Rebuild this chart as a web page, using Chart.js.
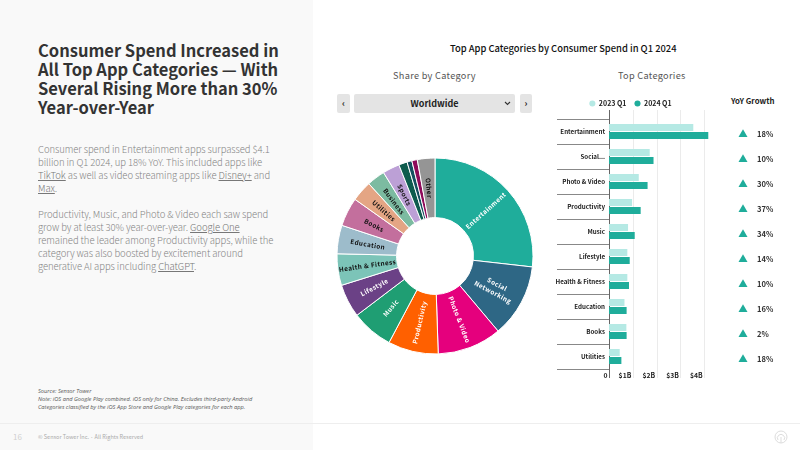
<!DOCTYPE html>
<html>
<head>
<meta charset="utf-8">
<script src="https://cdn.jsdelivr.net/npm/chart.js@4"></script>
<style>
    html, body { margin: 0; padding: 0; background: #fff; }
    #page { position: relative; width: 800px; height: 450px; overflow: hidden; font-family: "Noto Sans CJK JP", "Noto Sans", sans-serif; }
    #page div, #page canvas { position: absolute; }
    #side { left: 0; top: 0; width: 313px; height: 450px; background: #f9f9f9; }
    #headline { left: 38px; top: 41px; font-size: 16.5px; line-height: 18.9px; font-weight: 700; color: #333; white-space: nowrap; }
    #body { left: 38px; top: 143px; font-size: 9.5px; line-height: 13px; font-weight: 300; letter-spacing: -0.07px; color: #858585; white-space: nowrap; }
    #body u { color: #777; }
    #notes { left: 38px; top: 387px; font-family: "Open Sans", sans-serif; font-style: italic; font-size: 5.7px; line-height: 8px; color: #555; white-space: nowrap; }
    #rule { left: 0; top: 423px; width: 800px; height: 1px; background: #eeeeee; }
    #pageno { left: 13px; top: 432px; font-size: 8px; line-height: 10px; color: #d0d0d0; }
    #copy { left: 38px; top: 433px; font-size: 5.5px; line-height: 8px; color: #aaa; white-space: nowrap; }
    #main-title { left: 450px; top: 41px; font-size: 9.4px; line-height: 14px; font-weight: 500; color: #111; white-space: nowrap; }
    .sub { top: 68px; font-size: 9.2px; line-height: 14px; color: #555; letter-spacing: 0.3px; white-space: nowrap; }
    .btn { top: 94px; height: 19px; background: #e4e4e4; border-radius: 2px; text-align: center; font-size: 9px; line-height: 19px; font-weight: 700; color: #222; }
    #yoy-head { left: 731px; top: 95px; font-size: 7.8px; line-height: 12px; font-weight: 700; color: #222; white-space: nowrap; }
    #logo { left: 774px; top: 430px; width: 14px; height: 14px; }
</style>
</head>
<body>
<div id="page">
    <div id="side"></div>
    <div id="headline">Consumer Spend Increased in<br>All Top App Categories — With<br>Several Rising More than 30%<br>Year-over-Year</div>
    <div id="body">Consumer spend in Entertainment apps surpassed $4.1<br>billion in Q1 2024, up 18% YoY. This included apps like<br><u>TikTok</u> as well as video streaming apps like <u>Disney+</u> and<br><u>Max</u>.<br><br>Productivity, Music, and Photo &amp; Video each saw spend<br>grow by at least 30% year-over-year. <u>Google One</u><br>remained the leader among Productivity apps, while the<br>category was also boosted by excitement around<br>generative AI apps including <u>ChatGPT</u>.</div>
    <div id="notes">Source: Sensor Tower<br>Note: iOS and Google Play combined. iOS only for China. Excludes third-party Android<br>Categories classified by the iOS App Store and Google Play categories for each app.</div>
    <div id="rule"></div>
    <div id="pageno">16</div>
    <div id="copy">© Sensor Tower Inc. · All Rights Reserved</div>

    <div id="main-title">Top App Categories by Consumer Spend in Q1 2024</div>
    <div class="sub" style="left:393px">Share by Category</div>
    <div class="sub" style="left:618px">Top Categories</div>
    <div class="btn" style="left:337px;width:13px">‹</div>
    <div class="btn" style="left:354px;width:161px">Worldwide<svg style="position:absolute;left:150px;top:7px" width="7" height="5"><path d="M1 1 L3.5 3.5 L6 1" fill="none" stroke="#333" stroke-width="1.1"/></svg></div>
    <div class="btn" style="left:520px;width:12px">›</div>
    <div id="yoy-head">YoY Growth</div>
    <svg id="logo" style="position:absolute" viewBox="0 0 14 14"><circle cx="7" cy="7" r="6" fill="none" stroke="#ddd" stroke-width="1"/><path d="M4 10 A3.6 3.6 0 1 1 10 10 M7 7 V13" fill="none" stroke="#ddd" stroke-width="1"/></svg>

    <canvas id="shareChart" style="left:335px;top:156px;width:200px;height:200px"></canvas>
    <canvas id="barChart" style="left:552px;top:92px;width:190px;height:293px"></canvas>
    <canvas id="yoyChart" style="left:730px;top:122px;width:65px;height:250px"></canvas>
</div>

<script>
const shareLabels = [['Entertainment'], ['Social', 'Networking'], ['Photo & Video'], ['Productivity'], ['Music'], ['Lifestyle'],
    ['Health & Fitness'], ['Education'], ['Books'], ['Utilities'], ['Business'], ['Sports'], [''], [''], [''], ['Other']];
const shareValues = [26.8, 12.1, 10.6, 8.3, 6.9, 5.5, 5.2, 4.7, 4.75, 3.4, 3.0, 2.8, 1.4, 0.8, 0.9, 2.9];
const shareColors = ['#1fad9b', '#2e6785', '#e5007d', '#ff6000', '#1f9e73', '#6b4186', '#7cc4b8', '#9dbccb',
    '#c36f9d', '#e4a584', '#7cbba1', '#bca0d6', '#0e5c4e', '#14505f', '#8e0a5a', '#959595'];
const shareTextColors = ['#fff', '#fff', '#fff', '#fff', '#fff', '#fff', '#111', '#111',
    '#111', '#111', '#111', '#111', '#111', '#111', '#111', '#111'];

const barCategories = ['Entertainment', 'Social...', 'Photo & Video', 'Productivity', 'Music', 'Lifestyle',
    'Health & Fitness', 'Education', 'Books', 'Utilities'];
const spend2023 = [3.54, 1.71, 1.25, 0.97, 0.80, 0.77, 0.77, 0.65, 0.73, 0.45];
const spend2024 = [4.17, 1.87, 1.62, 1.33, 1.08, 0.87, 0.84, 0.74, 0.74, 0.52];
const yoyGrowth = [18, 10, 30, 37, 34, 14, 10, 16, 2, 18];
const spendTicks = [0, 1, 2, 3, 4];
const spendTickLabels = ['0', '$1B', '$2B', '$3B', '$4B'];

const labelFont = '"Noto Sans CJK JP", "Noto Sans", sans-serif';

// radial text inside each slice, flipped on the left half so it stays readable
const sliceLabels = {
    id: 'sliceLabels',
    afterDatasetsDraw(chart) {
        const ctx = chart.ctx;
        chart.getDatasetMeta(0).data.forEach((arc, i) => {
            const lines = shareLabels[i];
            if (!lines[0]) return;
            const pos = arc.getCenterPoint();
            const mid = (arc.startAngle + arc.endAngle) / 2;
            const fromTop = mid + Math.PI / 2;
            const rot = fromTop < Math.PI ? mid : mid + Math.PI;
            ctx.save();
            ctx.translate(pos.x, pos.y);
            ctx.rotate(rot);
            ctx.font = '700 6.4px ' + labelFont;
            ctx.letterSpacing = '0.4px';
            ctx.textAlign = 'center';
            ctx.textBaseline = 'middle';
            ctx.fillStyle = shareTextColors[i];
            lines.forEach((line, n) => {
                ctx.fillText(line, 0, (n - (lines.length - 1) / 2) * 9);
            });
            ctx.restore();
        });
    }
};

new Chart(document.getElementById('shareChart'), {
    type: 'doughnut',
    data: {
        labels: shareLabels.map(l => l.join(' ')),
        datasets: [{
            data: shareValues,
            backgroundColor: shareColors,
            borderColor: '#fff',
            borderWidth: 1
        }]
    },
    options: {
        responsive: false,
        animation: false,
        radius: 98,
        cutout: 39,
        layout: { padding: 0 },
        plugins: { legend: { display: false }, tooltip: { enabled: false } }
    },
    plugins: [sliceLabels]
});

// value lines run a little past the plot at both ends, zero line is darker
const valueLines = {
    id: 'valueLines',
    beforeDatasetsDraw(chart) {
        const ctx = chart.ctx;
        const area = chart.chartArea;
        const x = chart.scales.x;
        ctx.save();
        x.ticks.forEach(t => {
            const px = Math.round(x.getPixelForValue(t.value)) + 0.5;
            ctx.strokeStyle = t.value === 0 ? '#666' : '#ebebeb';
            ctx.lineWidth = 1;
            ctx.beginPath();
            ctx.moveTo(px, area.top - 9);
            ctx.lineTo(px, area.bottom + 9);
            ctx.stroke();
        });
        ctx.restore();
    }
};

// legend sits in a fixed strip above the plot
const fixedLegend = {
    id: 'fixedLegend',
    beforeInit(chart) {
        const fit = chart.legend.fit;
        chart.legend.fit = function () {
            fit.call(this);
            this.height = 27;
        };
    }
};

new Chart(document.getElementById('barChart'), {
    type: 'bar',
    data: {
        labels: barCategories,
        datasets: [
            { label: '2023 Q1', data: spend2023, backgroundColor: '#b5e9e4', categoryPercentage: 0.64, barPercentage: 0.875 },
            { label: '2024 Q1', data: spend2024, backgroundColor: '#1fad9b', categoryPercentage: 0.64, barPercentage: 0.875 }
        ]
    },
    options: {
        indexAxis: 'y',
        responsive: false,
        animation: false,
        layout: { padding: { left: 0, right: 33, top: 0, bottom: 0 } },
        scales: {
            x: {
                min: 0,
                max: 4.2,
                afterBuildTicks: s => { s.ticks = spendTicks.map(v => ({ value: v })); },
                afterFit: s => { s.height = 16; },
                grid: { display: false, drawTicks: false },
                border: { display: false },
                ticks: {
                    align: 'end',
                    padding: 2,
                    maxRotation: 0,
                    autoSkip: false,
                    color: '#222',
                    font: { family: labelFont, size: 6.8, weight: '700' },
                    callback: (v, i) => spendTickLabels[i] + ' '
                }
            },
            y: {
                afterFit: s => { s.width = 57; },
                border: { display: false },
                grid: { offset: true, drawOnChartArea: false, tickLength: 52, tickColor: '#888', tickWidth: 1 },
                ticks: {
                    padding: -48,
                    autoSkip: false,
                    color: '#222',
                    font: { family: labelFont, size: 6.2, weight: '700' }
                }
            }
        },
        plugins: {
            tooltip: { enabled: false },
            legend: {
                position: 'top',
                align: 'center',
                labels: {
                    usePointStyle: true,
                    pointStyle: 'circle',
                    boxWidth: 6,
                    boxHeight: 4.3,
                    padding: 8,
                    color: '#222',
                    font: { family: labelFont, size: 7, weight: '700' }
                }
            }
        }
    },
    plugins: [valueLines, fixedLegend]
});

// growth percentage to the right of each triangle
const growthText = {
    id: 'growthText',
    afterDatasetsDraw(chart) {
        const ctx = chart.ctx;
        ctx.save();
        ctx.font = '700 7.6px ' + labelFont;
        ctx.fillStyle = '#333';
        ctx.textBaseline = 'middle';
        chart.getDatasetMeta(0).data.forEach((pt, i) => {
            ctx.fillText(yoyGrowth[i] + '%', pt.x + 14, pt.y);
        });
        ctx.restore();
    }
};

new Chart(document.getElementById('yoyChart'), {
    type: 'scatter',
    data: {
        labels: barCategories,
        datasets: [{
            data: barCategories.map(c => ({ x: 0.2, y: c })),
            pointStyle: 'triangle',
            pointRadius: 5.2,
            backgroundColor: '#1fad9b',
            borderWidth: 0
        }]
    },
    options: {
        responsive: false,
        animation: false,
        layout: { autoPadding: false },
        scales: {
            x: { type: 'linear', min: 0, max: 1, display: false },
            y: { type: 'category', offset: true, display: false }
        },
        plugins: { legend: { display: false }, tooltip: { enabled: false } }
    },
    plugins: [growthText]
});
</script>
</body>
</html>
